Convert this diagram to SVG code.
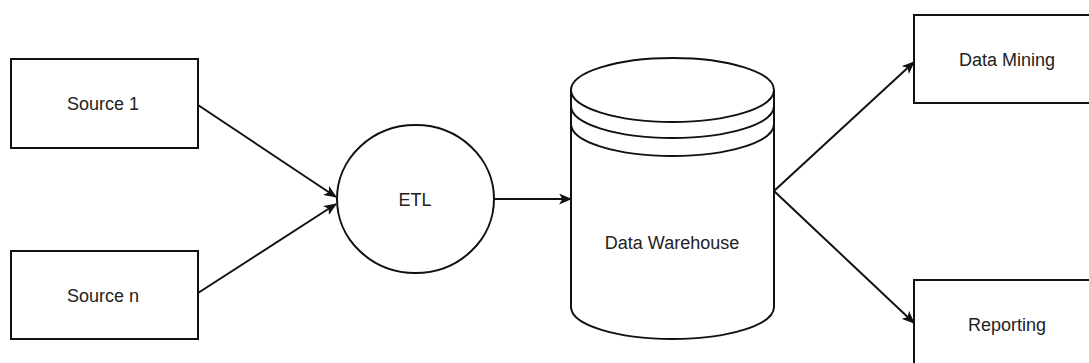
<svg xmlns="http://www.w3.org/2000/svg" width="1089" height="363" viewBox="0 0 1089 363">
<style>
.n{fill:#fff;stroke:#111;stroke-width:2}
.t{font-family:"Liberation Sans",Arial,sans-serif;font-size:18px;fill:#222;text-anchor:middle;dominant-baseline:central}
.c{fill:none;stroke:#111;stroke-width:2}
</style>
<defs>
<marker id="a" viewBox="0 0 12 10" refX="11" refY="5" markerWidth="13" markerHeight="11" markerUnits="userSpaceOnUse" orient="auto">
<path d="M0,0 L12,5 L0,10 L3,5 Z" fill="#111"/>
</marker>
</defs>
<rect width="1089" height="363" fill="#fff"/>
<g id="source1"><rect class="n" x="11" y="59" width="187" height="89"/><text class="t" x="103" y="104">Source 1</text></g>
<g id="sourcen"><rect class="n" x="11" y="251" width="187" height="88"/><text class="t" x="103" y="296">Source n</text></g>
<g id="etl"><ellipse class="n" cx="415.5" cy="199" rx="78.5" ry="74"/><text class="t" x="415" y="200">ETL</text></g>
<g id="dw">
<path class="n" d="M571,90 L571,307 A101.5,32 0 0 0 774,307 L774,90 A101.5,32 0 0 0 571,90 Z"/>
<path class="c" d="M571,90 A101.5,32 0 0 0 774,90"/>
<path class="c" d="M571,106 A101.5,32 0 0 0 774,106"/>
<path class="c" d="M571,124 A101.5,32 0 0 0 774,124"/>
<text class="t" x="672" y="243">Data Warehouse</text>
</g>
<g id="datamining"><rect class="n" x="914" y="15" width="190" height="88"/><text class="t" x="1007" y="60">Data Mining</text></g>
<g id="reporting"><rect class="n" x="914" y="280" width="190" height="100"/><text class="t" x="1007" y="325">Reporting</text></g>
<g id="connectors">
<line class="c" x1="198" y1="105" x2="336" y2="197" marker-end="url(#a)"/>
<line class="c" x1="198" y1="293" x2="336" y2="204" marker-end="url(#a)"/>
<line class="c" x1="494" y1="199" x2="571" y2="199" marker-end="url(#a)"/>
<line class="c" x1="774" y1="191" x2="914" y2="62" marker-end="url(#a)"/>
<line class="c" x1="774" y1="191" x2="914" y2="323" marker-end="url(#a)"/>
</g>
</svg>
